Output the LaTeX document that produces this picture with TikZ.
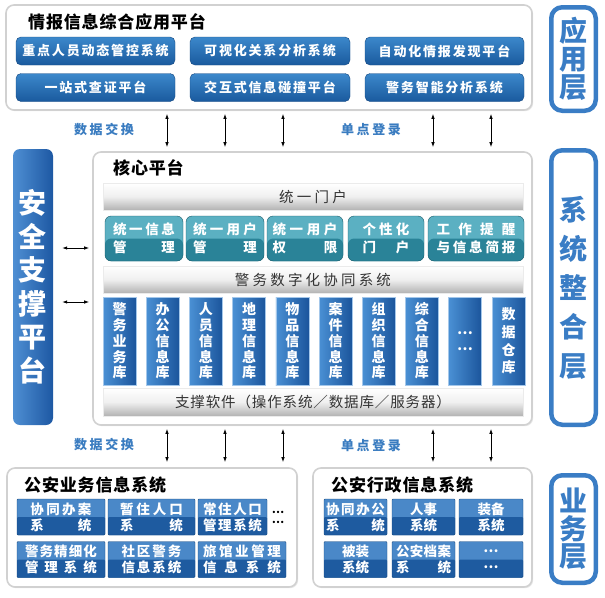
\documentclass[tikz,border=0pt]{standalone}
\usepackage{fontspec}
\setmainfont{Noto Sans CJK SC}
\usepackage{tikz}
\usetikzlibrary{arrows.meta,shadows}

\definecolor{btnTop}{HTML}{3C88CB}
\definecolor{btnBot}{HTML}{1A5A9E}
\definecolor{btnLine}{HTML}{174A82}
\definecolor{tealTop}{HTML}{5BB0C2}
\definecolor{tealBot}{HTML}{2A8398}
\definecolor{bizTop}{HTML}{4A88C8}
\definecolor{bizBot}{HTML}{1E5BA0}
\definecolor{colLight}{HTML}{4A90D4}
\definecolor{colDark}{HTML}{1B559C}
\definecolor{secLight}{HTML}{4F8FD3}
\definecolor{secDark}{HTML}{1D58A3}
\definecolor{layerBlue}{HTML}{3A7DC5}
\definecolor{tagBlue}{HTML}{3A7CC0}

% spread the characters of one line over a fixed width
\def\evenloop#1#2{#1\ifx#2\relax\else\hfill\expandafter\evenloop\expandafter#2\fi}
\newcommand{\evenline}[2]{\makebox[#1pt]{\evenloop#2\relax}}

\begin{document}
\begin{tikzpicture}[x=1pt, y=-1pt,
  panel/.style={draw=black!18, line width=1.6pt, fill=white, rounded corners=8pt, inner sep=0pt,
                drop shadow={opacity=0.18, shadow xshift=1.2pt, shadow yshift=-1.2pt}},
  title/.style={anchor=west, inner sep=0pt, font=\fontsize{17}{18}\selectfont\bfseries\addfontfeature{LetterSpace=5}},
  btn/.style={rounded corners=5pt, draw=btnLine, top color=btnTop, bottom color=btnBot, text=white,
              minimum height=28, inner sep=0pt, font=\fontsize{13}{14}\selectfont\bfseries\addfontfeature{LetterSpace=14}},
  bar/.style={draw=black!8, top color=white, bottom color=black!30, middle color=black!6,
              minimum width=420, minimum height=27, inner sep=0pt, text=black!80,
              font=\fontsize{14.5}{16}\selectfont\addfontfeature{LetterSpace=22}},
  teal/.style={rounded corners=6pt, draw=tealBot!70!black, fill=tealTop,
               path picture={\fill[tealBot] (path picture bounding box.west) rectangle (path picture bounding box.south east);},
               minimum height=45, inner sep=0pt, text=white, align=center, font=\fontsize{13.5}{18}\selectfont\bfseries},
  dbcol/.style={draw=colLight!50!white, left color=colLight, right color=colDark, minimum width=33, minimum height=88,
                inner sep=0pt, text=white, align=center, font=\fontsize{14}{15.8}\selectfont\bfseries},
  biz/.style={rounded corners=1pt, draw=btnLine, fill=bizTop,
              path picture={\fill[bizBot] (path picture bounding box.west) rectangle (path picture bounding box.south east);},
              minimum height=36, inner sep=0pt, text=white, align=center, font=\fontsize{13.5}{16}\selectfont\bfseries},
  layer/.style={draw=layerBlue, line width=4.5pt, rounded corners=11pt, fill=white, minimum width=44.5,
                inner sep=0pt, text=layerBlue, align=center},
  tag/.style={text=tagBlue, font=\fontsize{13}{14}\selectfont\bfseries\addfontfeature{LetterSpace=20}},
  dbl/.style={{Latex[length=5pt,width=3.5pt]}-{Latex[length=5pt,width=3.5pt]}, line width=0.8pt}
]
  \useasboundingbox (0,0) rectangle (605,597);

  % Frames
  \node[panel, minimum width=526, minimum height=105] (app)  at (269,57.5)  {};
  \node[panel, minimum width=439, minimum height=273] (core) at (312.5,288.5) {};
  \node[panel, minimum width=290, minimum height=119] (pol)  at (152,527.5) {};
  \node[panel, minimum width=219, minimum height=119] (adm)  at (422.5,527.5) {};

  % Application platform
  \node[title] (appT) at (28,22) {情报信息综合应用平台};
  \node[btn, minimum width=159] (b1) at (95.5,51)    {重点人员动态管控系统};
  \node[btn, minimum width=160] (b2) at (270,51)     {可视化关系分析系统};
  \node[btn, minimum width=159] (b3) at (444.5,51)   {自动化情报发现平台};
  \node[btn, minimum width=159] (b4) at (95.5,87.5)  {一站式查证平台};
  \node[btn, minimum width=160] (b5) at (270,87.5)   {交互式信息碰撞平台};
  \node[btn, minimum width=159] (b6) at (444.5,87.5) {警务智能分析系统};

  % Core platform
  \node[title] (coreT) at (113,168) {核心平台};
  \node[bar] (portal) at (313,196.5) {统一门户};
  \node[teal, minimum width=78] (m1) at (144,238.5) {\evenline{62}{统一信息}\\\evenline{62}{管理}};
  \node[teal, minimum width=78] (m2) at (225,238.5) {\evenline{64}{统一用户}\\\evenline{64}{管理}};
  \node[teal, minimum width=76] (m3) at (305,238.5) {\evenline{65}{统一用户}\\\evenline{65}{权限}};
  \node[teal, minimum width=76] (m4) at (386,238.5) {\evenline{47}{个性化}\\\evenline{47}{门户}};
  \node[teal, minimum width=96] (m5) at (476,238.5) {\evenline{79}{工作提醒}\\\evenline{79}{与信息简报}};
  \node[bar] (collab) at (313,279.5) {警务数字化协同系统};
  \foreach \txt [count=\i from 0] in {{警\\务\\业\\务\\库}, {办\\公\\信\\息\\库}, {人\\员\\信\\息\\库},
      {地\\理\\信\\息\\库}, {物\\品\\信\\息\\库}, {案\\件\\信\\息\\库}, {组\\织\\信\\息\\库},
      {综\\合\\信\\息\\库}, {…\\…}}
    \node[dbcol] (db\i) at (119.5+43.2*\i,341) {\txt};
  \node[dbcol, font=\fontsize{14}{17.7}\selectfont\bfseries] (db9) at (508.5,341) {数\\据\\仓\\库};
  \node[bar, minimum height=28, font=\fontsize{14.5}{16}\selectfont\addfontfeature{LetterSpace=6}] (soft) at (313,402)
    {支撑软件（操作系统／数据库／服务器）};

  % Security platform
  \node[rounded corners=7pt, left color=secLight, right color=secDark, minimum width=40, minimum height=276,
        inner sep=0pt, text=white, align=center, font=\fontsize{28}{33.5}\selectfont\bfseries] (safe) at (33,287)
    {安\\全\\支\\撑\\平\\台};

  % Layers
  \node[layer, minimum height=103.5, font=\fontsize{28}{28}\selectfont\bfseries] (lyApp) at (573.5,59)    {应\\用\\层};
  \node[layer, minimum height=274.5, font=\fontsize{28}{39}\selectfont\bfseries] (lyInt) at (573.5,287.5) {系\\统\\整\\合\\层};
  \node[layer, minimum height=107.5, font=\fontsize{28}{27.5}\selectfont\bfseries] (lyBiz) at (573.5,529) {业\\务\\层};

  % Business systems
  \node[title] (polT) at (24,485) {公安业务信息系统};
  \node[biz, minimum width=88] (p1) at (61,517)      {\evenline{61}{协同办案}\\\evenline{61}{系统}};
  \node[biz, minimum width=87] (p2) at (151.5,517)   {\evenline{63}{暂住人口}\\\evenline{63}{系统}};
  \node[biz, minimum width=69] (p3) at (232.5,517)   {\evenline{59}{常住人口}\\\evenline{59}{管理系统}};
  \node[align=center, inner sep=0pt, font=\fontsize{11}{10}\selectfont\bfseries] (pMore) at (278,517) {…\\…};
  \node[biz, minimum width=88] (p4) at (61,559.5)    {\evenline{72}{警务精细化}\\\evenline{72}{管理系统}};
  \node[biz, minimum width=87] (p5) at (151.5,559.5) {\evenline{60}{社区警务}\\\evenline{60}{信息系统}};
  \node[biz, minimum width=88] (p6) at (242,559.5)   {\evenline{78}{旅馆业管理}\\\evenline{78}{信息系统}};

  \node[title] (admT) at (331,485) {公安行政信息系统};
  \node[biz, minimum width=63] (a1) at (355.5,517)   {\evenline{59}{协同办公}\\\evenline{59}{系统}};
  \node[biz, minimum width=63] (a2) at (423.5,517)   {人事\\系统};
  \node[biz, minimum width=64] (a3) at (491,517)     {装备\\系统};
  \node[biz, minimum width=63] (a4) at (355.5,559.5) {被装\\系统};
  \node[biz, minimum width=63] (a5) at (423.5,559.5) {\evenline{55}{公安档案}\\\evenline{55}{系统}};
  \node[biz, minimum width=64] (a6) at (491,559.5)   {…\\…};

  % Labels
  \node[tag] (xchTop) at (104,130) {数据交换};
  \node[tag] (ssoTop) at (371,130) {单点登录};
  \node[tag] (xchBot) at (104,445) {数据交换};
  \node[tag] (ssoBot) at (371,446) {单点登录};

  % Arrows
  \foreach \x [count=\i] in {167,225,283,433,491} \coordinate (ax\i) at (\x,0);
  \coordinate (ay1) at (0,248);
  \coordinate (ay2) at (0,302);
  \foreach \i in {1,...,5}
    \draw[dbl] ([yshift=-3pt]app.south -| ax\i) -- ([yshift=4pt]core.north -| ax\i);
  \foreach \i in {1,2,3}
    \draw[dbl] ([yshift=-3pt]core.south -| ax\i) -- ([yshift=5pt]pol.north -| ax\i);
  \foreach \i in {4,5}
    \draw[dbl] ([yshift=-3pt]core.south -| ax\i) -- ([yshift=5pt]adm.north -| ax\i);
  \foreach \i in {1,2}
    \draw[dbl] ([xshift=9pt]safe.east |- ay\i) -- ([xshift=-3pt]core.west |- ay\i);
\end{tikzpicture}
\end{document}
